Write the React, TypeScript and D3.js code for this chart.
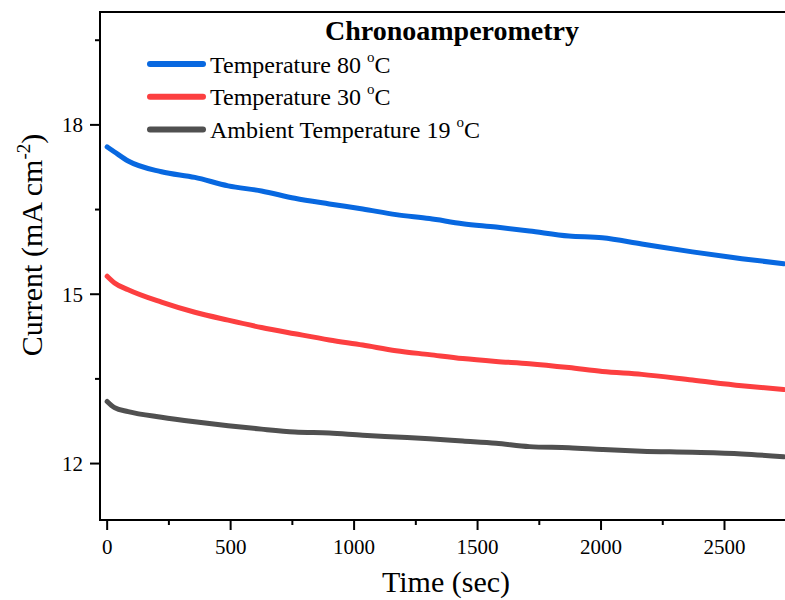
import React from "react";
import * as d3 from "d3";

// time (s) at which the curves were read
const times = [0, 30, 85, 220, 355, 490, 625, 760, 900, 1035, 1170, 1305, 1440, 1575, 1710, 1870, 2005, 2165, 2370, 2570, 2740];

const temp80 = [17.61, 17.52, 17.36, 17.17, 17.07, 16.92, 16.83, 16.7, 16.6, 16.51, 16.41, 16.34, 16.25, 16.19, 16.12, 16.03, 16.0, 15.89, 15.75, 15.63, 15.54];
const temp30 = [15.32, 15.2, 15.08, 14.86, 14.68, 14.54, 14.41, 14.3, 14.19, 14.1, 14.0, 13.93, 13.86, 13.81, 13.77, 13.7, 13.63, 13.58, 13.48, 13.38, 13.31];
const temp19 = [13.1, 12.99, 12.92, 12.82, 12.74, 12.67, 12.61, 12.56, 12.54, 12.5, 12.47, 12.44, 12.4, 12.36, 12.3, 12.28, 12.25, 12.22, 12.2, 12.17, 12.12];

const seriesNames = ["Temperature 80 ", "Temperature 30 ", "Ambient Temperature 19 "];
const seriesColors = ["#0868e0", "#fc3f40", "#505050"];
const seriesValues = [temp80, temp30, temp19];

const xMajor = [0, 500, 1000, 1500, 2000, 2500];
const xMinor = [250, 750, 1250, 1750, 2250];
const yMajor = [12, 15, 18];
const yMinor = [13.5, 16.5, 19.5];

const FONT = "'Liberation Serif', 'Times New Roman', serif";

const App = (): React.JSX.Element => {
  const width = 785;
  const height = 600;
  const left = 100;
  const right = 785;
  const top = 12;
  const bottom = 520;

  const x = d3.scaleLinear([-29, 2745], [left, right]);
  const y = d3.scaleLinear([11, 20], [bottom, top]);

  const line = d3
    .line<number>()
    .x((_d, i) => x(times[i]))
    .y((d) => y(d))
    .curve(d3.curveMonotoneX);

  return (
    <svg width={width} height={height} style={{ position: "absolute", left: 0, top: 0, background: "#fff" }} fontFamily={FONT}>
      <defs>
        <clipPath id="plot">
          <rect x={left} y={top} width={right - left} height={bottom - top} />
        </clipPath>
      </defs>

      <g clipPath="url(#plot)" fill="none" strokeWidth={5} strokeLinejoin="round" strokeLinecap="round">
        {seriesValues.map((vals, i) => (
          <path key={i} d={line(vals) as string} stroke={seriesColors[i]} />
        ))}
      </g>

      {/* frame */}
      <g stroke="#000" strokeWidth={2} fill="none">
        <line x1={left} x2={left} y1={top - 1} y2={bottom + 1} />
        <line x1={left - 1} x2={right} y1={top} y2={top} />
        <line x1={left - 1} x2={right} y1={bottom} y2={bottom} />
      </g>

      {/* y axis */}
      <g stroke="#000" strokeWidth={2}>
        {yMajor.map((t) => (
          <line key={t} x1={left - 10} x2={left} y1={y(t)} y2={y(t)} />
        ))}
        {yMinor.map((t) => (
          <line key={t} x1={left - 5} x2={left} y1={y(t)} y2={y(t)} />
        ))}
      </g>
      <g fontSize={21} textAnchor="end" fill="#000">
        {yMajor.map((t) => (
          <text key={t} x={left - 17} y={y(t)} dy="0.35em">
            {t}
          </text>
        ))}
      </g>

      {/* x axis */}
      <g stroke="#000" strokeWidth={2}>
        {xMajor.map((t) => (
          <line key={t} x1={x(t)} x2={x(t)} y1={bottom} y2={bottom + 10} />
        ))}
        {xMinor.map((t) => (
          <line key={t} x1={x(t)} x2={x(t)} y1={bottom} y2={bottom + 5} />
        ))}
      </g>
      <g fontSize={21} textAnchor="middle" fill="#000">
        {xMajor.map((t) => (
          <text key={t} x={x(t)} y={554}>
            {t}
          </text>
        ))}
      </g>

      {/* axis titles */}
      <text x={446} y={592} fontSize={30} textAnchor="middle">
        Time (sec)
      </text>
      <text transform="translate(42,245) rotate(-90)" fontSize={30} textAnchor="middle">
        Current (mA cm
        <tspan fontSize={19} dy={-12}>
          -2
        </tspan>
        <tspan dy={12}>)</tspan>
      </text>

      {/* legend */}
      <text x={452} y={40} fontSize={28} fontWeight="bold" textAnchor="middle">
        Chronoamperometry
      </text>
      {seriesNames.map((name, i) => (
        <g key={name} transform={`translate(0,${64 + i * 32.7})`}>
          <line x1={150} x2={203} y1={0} y2={0} stroke={seriesColors[i]} strokeWidth={6} strokeLinecap="round" />
          <text x={210} y={8.5} fontSize={24}>
            {name}
            <tspan fontSize={15} dy={-11}>
              o
            </tspan>
            <tspan dy={11}>C</tspan>
          </text>
        </g>
      ))}
    </svg>
  );
};

export default App;
